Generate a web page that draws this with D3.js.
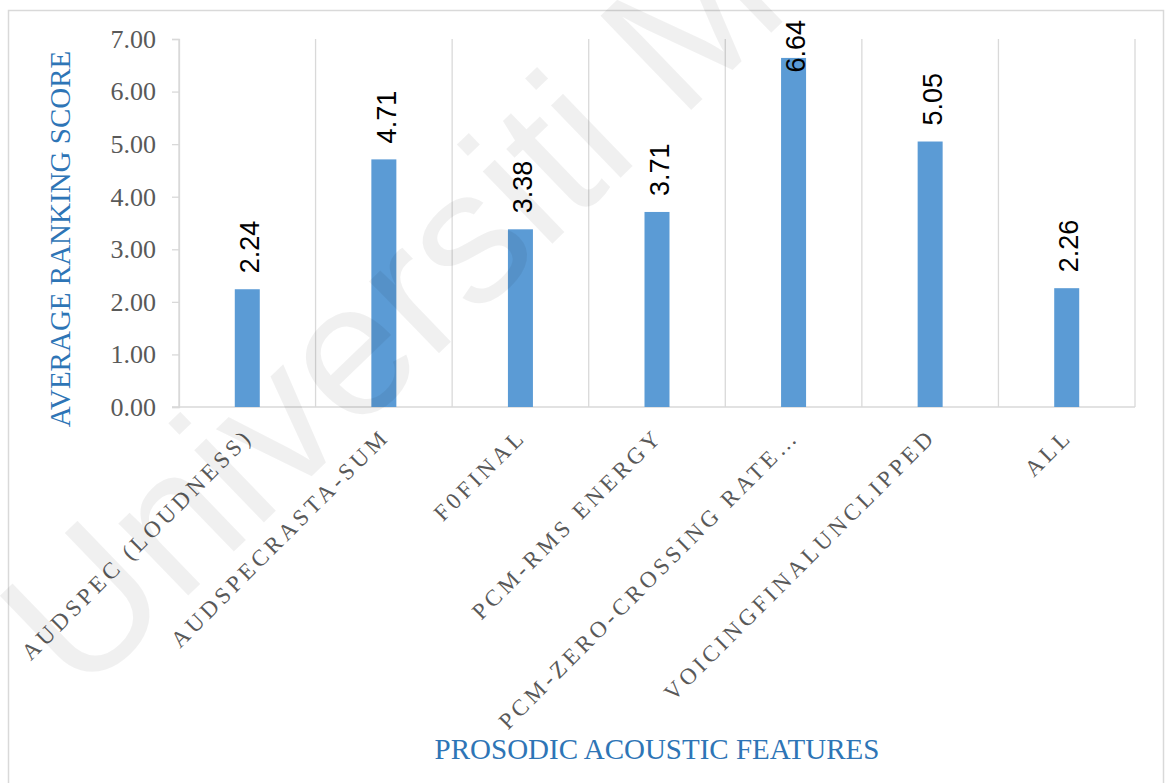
<!DOCTYPE html>
<html><head><meta charset="utf-8">
<script src="https://cdn.jsdelivr.net/npm/d3@7"></script>
<style>body{margin:0;background:#fff}svg{display:block}</style>
</head><body>
<script>
const categories = ["AUDSPEC (LOUDNESS)","AUDSPECRASTA-SUM","F0FINAL","PCM-RMS ENERGY","PCM-ZERO-CROSSING RATE…","VOICINGFINALUNCLIPPED","ALL"];
const values = [2.24, 4.71, 3.38, 3.71, 6.64, 5.05, 2.26];
const yTicks = [0,1,2,3,4,5,6,7];
const yTitle = "AVERAGE RANKING SCORE";
const xTitle = "PROSODIC ACOUSTIC FEATURES";
const watermark = "Universiti Malaya";

const W = 1167, H = 783;
const m = {left:179, right:1135, top:39, bottom:407};
const svg = d3.select("body").append("svg").attr("width",W).attr("height",H);

svg.append("rect").attr("x",8.5).attr("y",10.5).attr("width",1155).attr("height",800)
  .attr("fill","#fff").attr("stroke","#d9d9d9").attr("stroke-width",1.5);

const x = d3.scaleBand().domain(categories).range([m.left,m.right]).paddingInner(0).paddingOuter(0);
const y = d3.scaleLinear().domain([0,7]).range([m.bottom,m.top]);

// vertical gridlines at band boundaries
const bounds = categories.map(c=>x(c)).concat([m.right]);
svg.append("g").selectAll("line").data(bounds).join("line")
  .attr("x1",d=>d).attr("x2",d=>d).attr("y1",m.top).attr("y2",m.bottom)
  .attr("stroke","#d9d9d9").attr("stroke-width",1.3);

// y axis
const yAxis = d3.axisLeft(y).tickValues(yTicks).tickFormat(d3.format(".2f")).tickSize(7).tickPadding(16);
const gy = svg.append("g").attr("transform",`translate(${m.left},0)`).call(yAxis);
gy.select(".domain").attr("stroke","#d9d9d9").attr("stroke-width",1.3);
gy.selectAll(".tick line").attr("stroke","#d9d9d9").attr("stroke-width",1.3);
gy.selectAll(".tick text").attr("fill","#595959").attr("font-family","'Liberation Serif','Times New Roman',serif").attr("font-size",26);

// baseline
svg.append("line").attr("x1",172).attr("x2",m.right).attr("y1",m.bottom).attr("y2",m.bottom)
  .attr("stroke","#d9d9d9").attr("stroke-width",1.5);

// bars
const bw = 25;
svg.append("g").selectAll("rect").data(values).join("rect")
  .attr("x",(d,i)=>x(categories[i])+x.bandwidth()/2-bw/2)
  .attr("width",bw)
  .attr("y",d=>y(d)).attr("height",d=>y(0)-y(d))
  .attr("fill","#5b9bd5");

// data labels
const lg = svg.append("g");
values.forEach((v,i)=>{
  const cx = x(categories[i])+x.bandwidth()/2+2;
  const t = lg.append("text").text(v.toFixed(2))
    .attr("font-family","'Liberation Sans',Arial,sans-serif").attr("font-size",27).attr("fill","#000")
    .attr("dy","0.36em");
  const len = t.node().getComputedTextLength();
  const start = Math.max(y(v)-16, 20+len);
  t.attr("transform",`translate(${cx},${start}) rotate(-90)`);
});

// x labels
svg.append("g").selectAll("text").data(categories).join("text")
  .attr("transform",d=>`translate(${x(d)+x.bandwidth()/2+7},${438}) rotate(-45)`)
  .attr("text-anchor","end")
  .attr("font-family","'Liberation Serif','Times New Roman',serif").attr("font-size",23)
  .attr("letter-spacing","3.9px")
  .attr("fill","#595959").text(d=>d);

// axis titles
svg.append("text").attr("transform",`translate(70,239) rotate(-90)`).attr("text-anchor","middle")
  .attr("font-family","'Liberation Serif','Times New Roman',serif").attr("font-size",29).attr("fill","#2e75b6").text(yTitle);
svg.append("text").attr("x",(m.left+m.right)/2).attr("y",759).attr("text-anchor","middle")
  .attr("font-family","'Liberation Serif','Times New Roman',serif").attr("font-size",29).attr("fill","#2e75b6").text(xTitle);

// watermark
svg.append("text").attr("transform","translate(80,700) rotate(-44)")
  .attr("font-family","'Liberation Sans',Arial,sans-serif").attr("font-size",190)
  .attr("fill","#000").attr("fill-opacity",0.06).text(watermark);
</script>
</body></html>
